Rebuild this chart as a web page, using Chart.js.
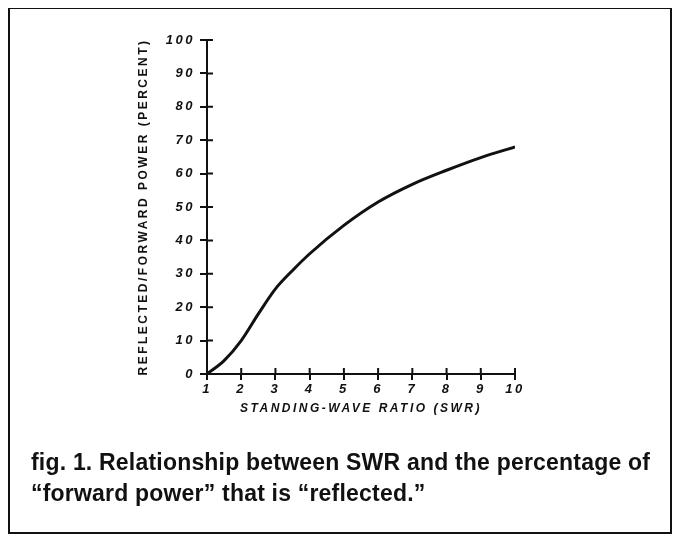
<!DOCTYPE html>
<html>
<head>
<meta charset="utf-8">
<script src="https://cdn.jsdelivr.net/npm/chart.js@4.4.1/dist/chart.umd.min.js"></script>
<style>
  html, body { margin: 0; padding: 0; background: #fff; }
  body { width: 676px; height: 537px; position: relative; overflow: hidden; }
  #wrap { position: absolute; left: 0; top: 0; width: 676px; height: 537px; }
  #frame { position: absolute; left: 8px; top: 8px; width: 664px; height: 526px; box-sizing: border-box;
           border: 2px solid #111; border-top-width: 1px; pointer-events: none; }
  #caption { position: absolute; left: 31px; top: 447px; color: #111; letter-spacing: 0.2px;
             font: bold 23px "Liberation Sans", Arial, sans-serif; line-height: 31px; }
</style>
</head>
<body>
<div id="wrap"><canvas id="swr-chart"></canvas></div>
<div id="frame"></div>
<div id="caption">fig. 1. Relationship between SWR and the percentage of<br>“forward power” that is “reflected.”</div>
<script>
// values
const swr = [1, 1.5, 2, 2.5, 3, 3.5, 4, 5, 6, 7, 8, 9, 10];
const reflected = [0, 4, 10, 18, 25.5, 31, 36, 44.5, 51.5, 56.8, 61, 64.8, 68];
const xTicks = [1, 2, 3, 4, 5, 6, 7, 8, 9, 10];
const yTicks = [0, 10, 20, 30, 40, 50, 60, 70, 80, 90, 100];

const ink = '#111';

// spaced-out lettering like the original figure
const spacing = {
  id: 'spacing',
  beforeDraw(chart) { chart.ctx.letterSpacing = '2.5px'; }
};

// ticks in the original cross the axis line, draw the inner half
const crossTicks = {
  id: 'crossTicks',
  afterDraw(chart) {
    const { ctx, chartArea, scales: { x, y } } = chart;
    ctx.save();
    ctx.strokeStyle = ink;
    ctx.lineWidth = 2;
    ctx.beginPath();
    x.ticks.forEach((t, i) => {
      const px = x.getPixelForTick(i);
      ctx.moveTo(px, chartArea.bottom);
      ctx.lineTo(px, chartArea.bottom - 6);
    });
    y.ticks.forEach((t, i) => {
      const py = y.getPixelForTick(i);
      ctx.moveTo(chartArea.left, py);
      ctx.lineTo(chartArea.left + 6, py);
    });
    ctx.stroke();
    ctx.restore();
  }
};

new Chart(document.getElementById('swr-chart'), {
  type: 'line',
  data: {
    datasets: [{
      data: swr.map((s, i) => ({ x: s, y: reflected[i] })),
      borderColor: ink,
      borderWidth: 3,
      pointRadius: 0,
      cubicInterpolationMode: 'monotone',
      fill: false
    }]
  },
  options: {
    responsive: true,
    maintainAspectRatio: false,
    animation: false,
    layout: { padding: { left: 133, top: 40, right: 161, bottom: 121 } },
    plugins: { legend: { display: false }, tooltip: { enabled: false } },
    scales: {
      x: {
        type: 'linear',
        min: 1,
        max: 10,
        afterBuildTicks: s => { s.ticks = xTicks.map(v => ({ value: v })); },
        afterFit: s => { s.height = 42; },
        grid: { drawOnChartArea: false, color: ink, lineWidth: 2, tickLength: 6 },
        border: { color: ink, width: 2 },
        ticks: {
          color: ink, padding: 2, maxRotation: 0,
          font: { family: 'Liberation Sans', size: 13, style: 'italic', weight: 'bold' }
        },
        title: {
          display: true,
          text: 'STANDING-WAVE RATIO (SWR)',
          color: ink,
          padding: { top: 4, bottom: 0 },
          font: { family: 'Liberation Sans', size: 12, style: 'italic', weight: 'bold' }
        }
      },
      y: {
        type: 'linear',
        min: 0,
        max: 100,
        afterBuildTicks: s => { s.ticks = yTicks.map(v => ({ value: v })); },
        afterFit: s => { s.width = 74; },
        grid: { drawOnChartArea: false, color: ink, lineWidth: 2, tickLength: 7 },
        border: { color: ink, width: 2 },
        ticks: {
          color: ink, padding: 5,
          font: { family: 'Liberation Sans', size: 13, style: 'italic', weight: 'bold' }
        },
        title: {
          display: true,
          text: 'REFLECTED/FORWARD POWER (PERCENT)',
          color: ink,
          padding: { top: 3, bottom: 0 },
          font: { family: 'Liberation Sans', size: 12, weight: 'bold' }
        }
      }
    }
  },
  plugins: [spacing, crossTicks]
});
</script>
</body>
</html>
